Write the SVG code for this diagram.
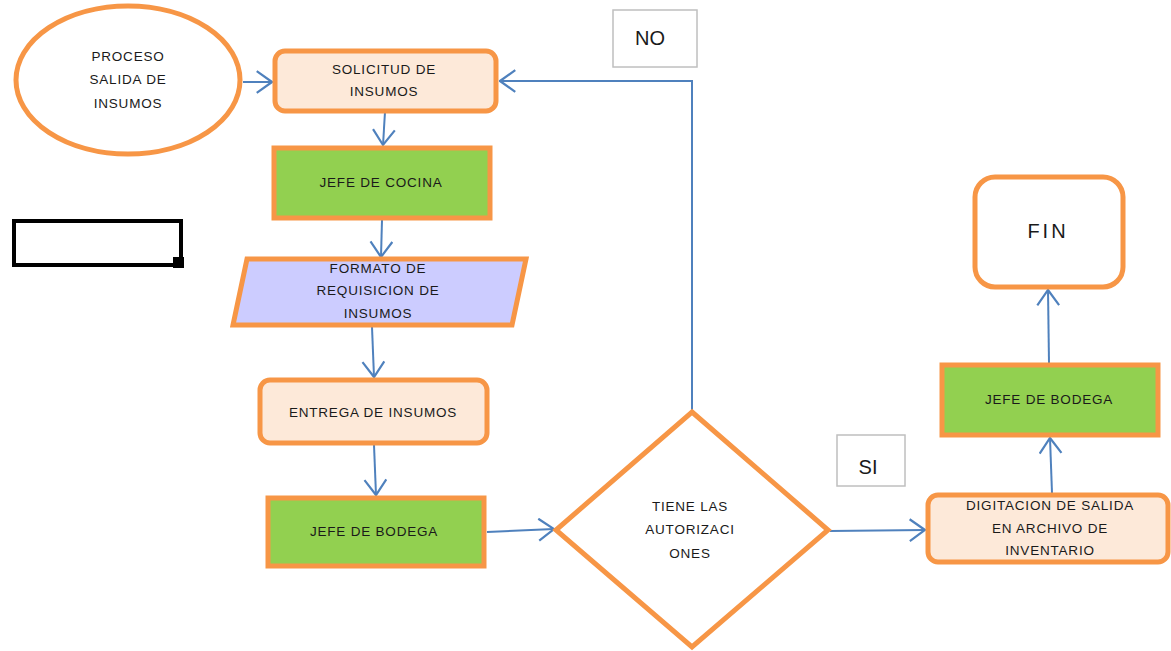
<svg xmlns="http://www.w3.org/2000/svg" width="1171" height="651" viewBox="0 0 1171 651">
  <style>
    .box { stroke: #F79646; stroke-width: 5; }
    .peach { fill: #FDE9D9; }
    .green { fill: #92D050; }
    .lav { fill: #CCCCFF; }
    .white { fill: #FFFFFF; }
    .lbl { font-family: "Liberation Sans", Arial, sans-serif; font-size: 13.5px; letter-spacing: 0.8px; fill: #1A1A1A; text-anchor: middle; }
    .tag { font-family: "Liberation Sans", Arial, sans-serif; font-size: 20px; fill: #1A1A1A; text-anchor: middle; }
    .tagbox { fill: #FFFFFF; stroke: #BFBFBF; stroke-width: 1.5; }
    .flow { fill: none; stroke: #4F81BD; stroke-width: 2; marker-end: url(#open); }
  </style>
  <defs>
    <marker id="open" markerUnits="userSpaceOnUse" markerWidth="18" markerHeight="24" viewBox="0 0 16 22" refX="15" refY="11" orient="auto">
      <path d="M1,1 L15,11 L1,21" fill="none" stroke="#4F81BD" stroke-width="2"/>
    </marker>
  </defs>
  <rect width="1171" height="651" fill="#FFFFFF"/>

  <!-- connectors -->
  <g id="connectors">
    <path class="flow" d="M243,82 L272,82"/>
    <path class="flow" d="M385,112 L383,145"/>
    <path class="flow" d="M382,220 L381,257"/>
    <path class="flow" d="M372,327 L374,377"/>
    <path class="flow" d="M374,445 L376,495"/>
    <path class="flow" d="M487,532 L554,529"/>
    <path class="flow" d="M692,411 L692,81 L500,81"/>
    <path class="flow" d="M830,531 L925,530"/>
    <path class="flow" d="M1052,493 L1050,438"/>
    <path class="flow" d="M1049,363 L1048,290"/>
  </g>

  <!-- start -->
  <g id="inicio">
    <ellipse class="box white" cx="128" cy="80" rx="112" ry="74"/>
    <text class="lbl" x="128" y="61">PROCESO</text>
    <text class="lbl" x="128" y="84">SALIDA DE</text>
    <text class="lbl" x="128" y="108">INSUMOS</text>
  </g>

  <g id="solicitud">
    <rect class="box peach" x="275" y="51" width="221" height="60" rx="10"/>
    <text class="lbl" x="384" y="74">SOLICITUD DE</text>
    <text class="lbl" x="384" y="96">INSUMOS</text>
  </g>

  <g id="jefe-cocina">
    <rect class="box green" x="274" y="148" width="216" height="70"/>
    <text class="lbl" x="381" y="187">JEFE DE COCINA</text>
  </g>

  <!-- black outline with a corner handle -->
  <g id="marco">
    <rect x="14" y="221" width="167" height="44" fill="none" stroke="#000000" stroke-width="4"/>
    <rect x="173" y="257" width="11" height="11" fill="#000000"/>
  </g>

  <g id="formato">
    <polygon class="box lav" points="247,259 526,259 512,325 233,325"/>
    <text class="lbl" x="378" y="273">FORMATO DE</text>
    <text class="lbl" x="378" y="295">REQUISICION DE</text>
    <text class="lbl" x="378" y="318">INSUMOS</text>
  </g>

  <g id="entrega">
    <rect class="box peach" x="260" y="380" width="227" height="63" rx="10"/>
    <text class="lbl" x="373" y="417">ENTREGA DE INSUMOS</text>
  </g>

  <g id="jefe-bodega-1">
    <rect class="box green" x="268" y="498" width="216" height="68"/>
    <text class="lbl" x="374" y="536">JEFE DE BODEGA</text>
  </g>

  <g id="decision">
    <polygon class="box white" points="692,412 828,530 692,647 556,530"/>
    <text class="lbl" x="690" y="511">TIENE LAS</text>
    <text class="lbl" x="690" y="534">AUTORIZACI</text>
    <text class="lbl" x="690" y="558">ONES</text>
  </g>

  <g id="etiqueta-no">
    <rect class="tagbox" x="613" y="10" width="84" height="57"/>
    <text class="tag" x="650" y="45">NO</text>
  </g>

  <g id="etiqueta-si">
    <rect class="tagbox" x="837" y="435" width="68" height="51"/>
    <text class="tag" x="868" y="474">SI</text>
  </g>

  <g id="digitacion">
    <rect class="box peach" x="928" y="495" width="240" height="67" rx="10"/>
    <text class="lbl" x="1050" y="510">DIGITACION DE SALIDA</text>
    <text class="lbl" x="1050" y="533">EN ARCHIVO DE</text>
    <text class="lbl" x="1050" y="555">INVENTARIO</text>
  </g>

  <g id="jefe-bodega-2">
    <rect class="box green" x="942" y="365" width="216" height="70"/>
    <text class="lbl" x="1049" y="404">JEFE DE BODEGA</text>
  </g>

  <g id="fin">
    <rect class="box white" x="975" y="177" width="148" height="110" rx="20"/>
    <text class="tag" x="1048" y="238" letter-spacing="3">FIN</text>
  </g>
</svg>
